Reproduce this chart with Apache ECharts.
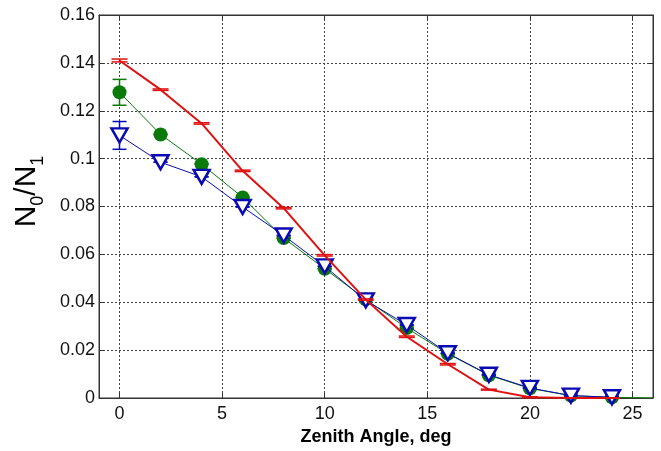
<!DOCTYPE html>
<html>
<head>
<meta charset="UTF-8">
<title>N0/N1 vs zenith angle</title>
<style type="text/css">
	html, body, .canvas { margin: 0; padding: 0; width: 100%; height: 100%; background: #fff; overflow: hidden; }
</style>
</head>
<body>
<div class="canvas" id="chart"></div>
<script src="https://cdn.jsdelivr.net/npm/echarts@6/dist/echarts.min.js"></script>
<script>
	// zenith angles, deg
	const angles = [0, 2, 4, 6, 8, 10, 12, 14, 16, 18, 20, 22, 24];
	const xTicks = [0, 5, 10, 15, 20, 25];

	const redVals = [0.141, 0.1288, 0.1147, 0.0949, 0.0793, 0.0596, 0.0411, 0.0256, 0.0141, 0.0035, 0.0003, 0, 0];
	const redErr = [0.0006, 0.0003, 0.0003, 0.0003, 0.0003, 0.0003, 0.0003, 0.0003, 0.0003, 0.0002, 0.0002, 0.0001, 0.0001];

	const greenVals = [0.1277, 0.1101, 0.0977, 0.0838, 0.0668, 0.054, 0.0412, 0.0292, 0.0185, 0.0095, 0.004, 0.001, 0.0003];
	const greenErr = [0.0054, 0, 0, 0, 0, 0, 0, 0, 0, 0, 0, 0, 0];
	// green curve runs on to the frame edge
	const greenTail = [26, 0];

	const blueVals = [0.1097, 0.0985, 0.0924, 0.0798, 0.0679, 0.055, 0.0408, 0.0305, 0.0187, 0.0097, 0.0042, 0.001, 0.0003];
	const blueErr = [0.0058, 0, 0, 0, 0, 0, 0, 0, 0, 0, 0, 0, 0];

	const RED = '#e01010';
	const GREEN = '#0a7a0a';
	const BLUE = '#0a0ab4';

	function errSeries(vals, errs, color, half, z) {
		return {
			type: 'custom',
			z: z,
			silent: true,
			data: angles.map((a, i) => [a, vals[i], errs[i]]),
			renderItem: function (params, api) {
				const x = api.value(0), y = api.value(1), e = api.value(2);
				const top = api.coord([x, y + e]);
				const bot = api.coord([x, y - e]);
				const st = { stroke: color, lineWidth: 1.5 };
				return {
					type: 'group',
					children: [
						{ type: 'line', shape: { x1: top[0], y1: top[1], x2: bot[0], y2: bot[1] }, style: st },
						{ type: 'line', shape: { x1: top[0] - half, y1: top[1], x2: top[0] + half, y2: top[1] }, style: st },
						{ type: 'line', shape: { x1: bot[0] - half, y1: bot[1], x2: bot[0] + half, y2: bot[1] }, style: st }
					]
				};
			}
		};
	}

	const labelFont = { fontFamily: 'Liberation Sans', fontSize: 18, color: '#111' };
	const gridLine = { show: true, lineStyle: { color: '#444', width: 1, type: [2, 2] } };

	const chart = echarts.init(document.getElementById('chart'));
	chart.setOption({
		animation: false,
		grid: { left: 99, right: 8, top: 15, bottom: 51, show: true, borderColor: '#333', borderWidth: 1 },
		xAxis: [{
			type: 'value', min: -1, max: 26,
			name: 'Zenith Angle, deg', nameLocation: 'middle', nameGap: 30,
			nameTextStyle: { fontFamily: 'Liberation Sans', fontSize: 18, fontWeight: 'bold', color: '#000' },
			axisLine: { show: true, onZero: false, lineStyle: { color: '#333' } },
			axisTick: { show: true, inside: true, length: 5, customValues: xTicks, lineStyle: { color: '#333' } },
			axisLabel: Object.assign({ margin: 7, customValues: xTicks }, labelFont),
			splitLine: gridLine
		}, {
			type: 'value', min: -1, max: 26, position: 'top',
			axisLine: { show: true, onZero: false, lineStyle: { color: '#333' } },
			axisTick: { show: true, inside: true, length: 5, customValues: xTicks, lineStyle: { color: '#333' } },
			axisLabel: { show: false },
			splitLine: { show: false }
		}],
		yAxis: [{
			type: 'value', min: 0, max: 0.16, interval: 0.02,
			name: '{n|N}{s|0}{n|/N}{s|1}', nameLocation: 'middle', nameRotate: 90, nameGap: 52,
			nameTextStyle: {
				padding: [0, 0, 0, 30],
				rich: {
					n: { fontFamily: 'Liberation Sans', fontSize: 30, lineHeight: 40, color: '#000' },
					s: { fontFamily: 'Liberation Sans', fontSize: 18, lineHeight: 18, verticalAlign: 'bottom', color: '#000' }
				}
			},
			axisLine: { show: true, onZero: false, lineStyle: { color: '#333' } },
			axisTick: { show: true, inside: true, length: 5, lineStyle: { color: '#333' } },
			axisLabel: Object.assign({
				margin: 4,
				formatter: v => v === 0 ? '0' : String(+v.toFixed(2))
			}, labelFont),
			splitLine: gridLine
		}, {
			type: 'value', min: 0, max: 0.16, interval: 0.02, position: 'right',
			axisLine: { show: true, onZero: false, lineStyle: { color: '#333' } },
			axisTick: { show: true, inside: true, length: 5, lineStyle: { color: '#333' } },
			axisLabel: { show: false },
			splitLine: { show: false }
		}],
		series: [
			{
				type: 'line', z: 3,
				data: angles.map((a, i) => [a, greenVals[i]]).concat([{ value: greenTail, symbol: 'none' }]),
				symbol: 'circle', symbolSize: 14,
				lineStyle: { color: GREEN, width: 1 },
				itemStyle: { color: GREEN }
			},
			errSeries(greenVals, greenErr, GREEN, 7, 3),
			{
				type: 'line', z: 4,
				data: angles.map((a, i) => [a, blueVals[i]]),
				symbol: 'triangle', symbolSize: [16, 14], symbolRotate: 180,
				lineStyle: { color: BLUE, width: 1 },
				itemStyle: { color: '#fff', borderColor: BLUE, borderWidth: 2.5 }
			},
			errSeries(blueVals, blueErr, BLUE, 7, 4),
			{
				type: 'line', z: 5,
				data: angles.map((a, i) => [a, redVals[i]]),
				showSymbol: false,
				lineStyle: { color: RED, width: 2 }
			},
			errSeries(redVals, redErr, RED, 8, 5)
		]
	});
</script>
</body>
</html>
